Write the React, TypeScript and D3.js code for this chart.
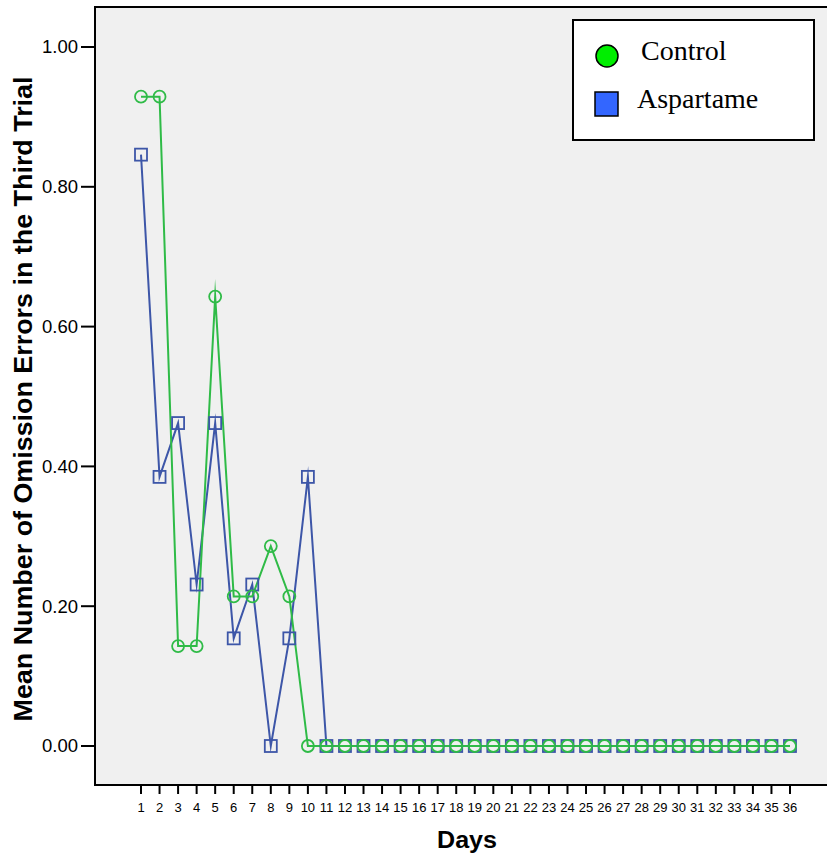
import React from "react";
import * as d3 from "d3";

const days = d3.range(1, 37);
const control = [0.929, 0.929, 0.143, 0.143, 0.643, 0.214, 0.214, 0.286, 0.214, 0, 0, 0, 0, 0, 0, 0, 0, 0, 0, 0, 0, 0, 0, 0, 0, 0, 0, 0, 0, 0, 0, 0, 0, 0, 0, 0];
const aspartame = [0.846, 0.385, 0.462, 0.231, 0.462, 0.154, 0.231, 0, 0.154, 0.385, 0, 0, 0, 0, 0, 0, 0, 0, 0, 0, 0, 0, 0, 0, 0, 0, 0, 0, 0, 0, 0, 0, 0, 0, 0, 0];
const yTicks = [0, 0.2, 0.4, 0.6, 0.8, 1.0];
const seriesNames = ["Control", "Aspartame"];

const W = 827, H = 857;
const frame = { left: 95, top: 7, right: 828, bottom: 785 };

export default function App() {
  const x = d3.scaleLinear().domain([1, 36]).range([141, 790]);
  const y = d3.scaleLinear().domain([0, 1]).range([746, 47]);
  const line = d3.line<number>().x((_, i) => x(days[i])).y((d) => y(d));
  const green = "#2fbb47";
  const blue = "#3d56a8";
  return (
    <svg width={W} height={H} style={{ position: "absolute", left: 0, top: 0, background: "#fff" }}>
      <rect x={frame.left} y={frame.top} width={frame.right - frame.left} height={frame.bottom - frame.top} fill="#f0f0f0" stroke="#000" strokeWidth={2} />
      {/* y axis ticks */}
      {yTicks.map((t) => (
        <g key={t}>
          <line x1={81} x2={frame.left} y1={y(t)} y2={y(t)} stroke="#000" strokeWidth={2} />
          <text x={78} y={y(t)} dy="0.35em" textAnchor="end" fontFamily="Liberation Sans, Arial" fontSize={18.5} fill="#000">{d3.format(".2f")(t)}</text>
        </g>
      ))}
      {/* x axis ticks */}
      {days.map((d) => (
        <g key={d}>
          <line x1={x(d)} x2={x(d)} y1={frame.bottom} y2={frame.bottom + 9} stroke="#000" strokeWidth={2} />
          <text x={x(d)} y={812} textAnchor="middle" fontFamily="Liberation Sans, Arial" fontSize={13} fill="#000">{d}</text>
        </g>
      ))}
      <text x={467} y={848} textAnchor="middle" fontFamily="Liberation Sans, Arial" fontWeight="bold" fontSize={23} textLength={60} lengthAdjust="spacingAndGlyphs">Days</text>
      <text transform={`translate(32,399) rotate(-90)`} textAnchor="middle" fontFamily="Liberation Sans, Arial" fontWeight="bold" fontSize={25} textLength={645} lengthAdjust="spacingAndGlyphs">Mean Number of Omission Errors in the Third Trial</text>
      {/* lines */}
      <path d={line(aspartame) || ""} fill="none" stroke={blue} strokeWidth={2} strokeLinejoin="miter" strokeMiterlimit={30} />
      <path d={line(control) || ""} fill="none" stroke={green} strokeWidth={2} strokeLinejoin="miter" strokeMiterlimit={30} />
      {aspartame.map((v, i) => (
        <rect key={"a" + i} x={x(days[i]) - 6} y={y(v) - 6} width={12} height={12} fill="none" stroke={blue} strokeWidth={1.8} />
      ))}
      {control.map((v, i) => (
        <circle key={"c" + i} cx={x(days[i])} cy={y(v)} r={6} fill="none" stroke={green} strokeWidth={1.8} />
      ))}
      {/* legend */}
      <rect x={573} y={20} width={241} height={120} fill="#fff" stroke="#000" strokeWidth={2} />
      <circle cx={607} cy={56} r={11} fill="#00ee00" stroke="#000" strokeWidth={1.5} />
      <text x={641} y={60} fontFamily="Liberation Serif, Times New Roman" fontSize={28}>{seriesNames[0]}</text>
      <rect x={595} y={92} width={23} height={24} fill="#3366ff" stroke="#000" strokeWidth={1.5} />
      <text x={637} y={108} fontFamily="Liberation Serif, Times New Roman" fontSize={28}>{seriesNames[1]}</text>
    </svg>
  );
}
